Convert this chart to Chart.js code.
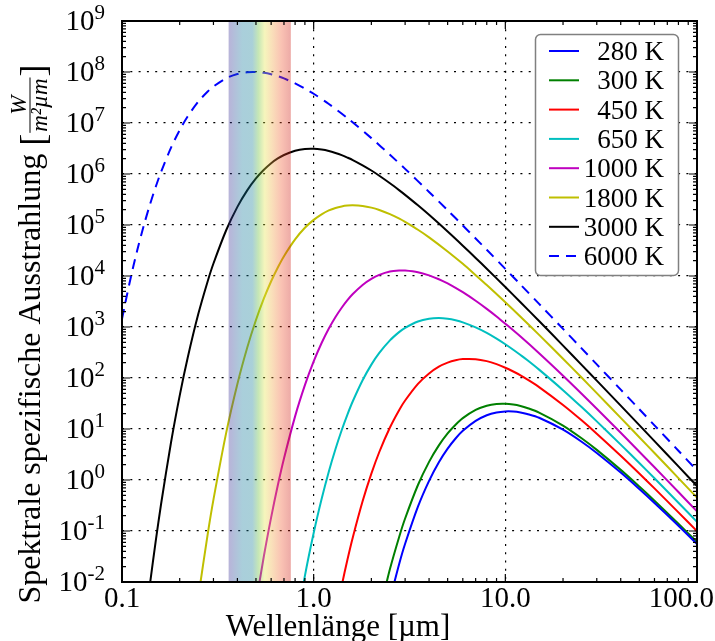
<!DOCTYPE html>
<html>
<head>
<meta charset="utf-8">
<script src="https://cdn.jsdelivr.net/npm/chart.js@4.4.1/dist/chart.umd.min.js"></script>
<style>
  html, body { margin: 0; padding: 0; background: #fff; }
</style>
</head>
<body>
<canvas id="myChart" width="715" height="641"></canvas>
<script>
// Spektrale spezifische Ausstrahlung schwarzer Strahler, W/(m² µm)
// null = an dieser Wellenlänge nicht abgelesen (Linie läuft durch)
const wellenlaengen = [
    0.1, 0.11, 0.12, 0.13, 0.14, 0.15, 0.16, 0.18, 0.2, 0.22,
    0.25, 0.28, 0.3, 0.35, 0.4, 0.45, 0.5, 0.55, 0.6, 0.65,
    0.7, 0.8, 0.9, 1.0, 1.1, 1.2, 1.3, 1.4, 1.5, 1.6,
    1.8, 2, 2.2, 2.5, 2.8, 3, 3.5, 4, 4.5, 5,
    5.5, 6, 7, 8, 9, 10, 11, 12, 13, 15,
    20, 25, 30, 40, 50, 60, 80, 100]

const temperaturen = ['280 K', '300 K', '450 K', '650 K', '1000 K', '1800 K', '3000 K', '6000 K']

const m280 = [
    null, null, null, null, null, null, null, null, null, null,
    null, null, null, null, null, null, null, null, null, null,
    null, null, null, null, null, null, null, null, null, null,
    null, null, null, 4.54e-3, 0.0233, 0.0561, 0.300, 0.963, 2.23, 4.12,
    6.51, 9.19, 14.4, 18.6, 21.1, 22.1, 22.0, 21.1, 19.7, 16.6,
    9.70, 5.63, 3.39, 1.40, 0.667, 0.355, 0.127, 0.0557]
const m300 = [
    null, null, null, null, null, null, null, null, null, null,
    null, null, null, null, null, null, null, null, null, null,
    null, null, null, null, null, null, null, null, null, null,
    null, null, 2.47e-3, 1.79e-2, 0.0791, 0.176, 0.798, 2.27, 4.77, 8.18,
    12.1, 16.3, 23.6, 28.5, 30.9, 31.2, 30.1, 28.2, 25.8, 21.0,
    11.7, 6.59, 3.90, 1.58, 0.744, 0.393, 0.139, 0.0608]
const m450 = [
    null, null, null, null, null, null, null, null, null, null,
    null, null, null, null, null, null, null, null, null, null,
    null, null, null, null, null, null, 2.10e-3, 8.39e-3, 0.0273, 0.0748,
    0.382, 1.33, 3.54, 10.7, 23.9, 36.2, 76.8, 123, 167, 200,
    223, 235, 234, 214, 187, 159, 134, 113, 94.2, 66.4,
    29.6, 14.8, 8.09, 2.99, 1.34, 0.684, 0.232, 0.0993]
const m650 = [
    null, null, null, null, null, null, null, null, null, null,
    null, null, null, null, null, null, null, null, null, null,
    null, 1.10e-3, 1.32e-2, 9.12e-2, 0.423, 1.47, 4.06, 9.46, 19.2, 35.0,
    90.4, 183, 310, 547, 802, 963, 1279, 1449, 1493, 1448,
    1353, 1234, 984, 766, 592, 459, 358, 282, 225, 146,
    57.8, 26.9, 14.1, 4.94, 2.15, 1.08, 0.358, 0.151]
const m1000 = [
    null, null, null, null, null, null, null, null, null, null,
    null, null, null, null, null, null, 3.81e-3, 0.0324, 0.185, 0.786,
    2.64, 17.7, 72.3, 211, 485, 933, 1.57e3, 2.39e3, 3.37e3, 4.44e3,
    6.69e3, 8.79e3, 1.05e4, 1.22e4, 1.28e4, 1.28e4, 1.19e4, 1.03e4, 8.64e3, 7.14e3,
    5.86e3, 4.81e3, 3.27e3, 2.27e3, 1.61e3, 1.16e3, null, 649, null, 306,
    111, 49.3, 25.0, 8.44, 3.59, 1.78, 0.580, 0.242]
const m1800 = [
    null, null, null, null, null, null, null, null, null, null,
    5.01e-3, 0.0870, 0.413, 8.59, 76.6, 392, 1.37e3, 3.63e3, 7.88e3, 1.47e4,
    2.45e4, 5.23e4, 8.81e4, 1.26e5, 1.62e5, 1.93e5, 2.16e5, 2.31e5, 2.40e5, 2.43e5,
    2.36e5, 2.19e5, 1.97e5, 1.63e5, 1.33e5, 1.15e5, 8.08e4, 5.73e4, null, 3.03e4,
    null, 1.73e4, 1.04e4, 6.66e3, null, 3.06e3, null, 1.59e3, null, 700,
    238, 102, 50.4, 16.5, 6.91, 3.38, 1.09, 0.450]
const m3000 = [
    null, null, null, 9.55e-4, 9.23e-3, 0.0641, 0.342, 5.31, 45.1, 247,
    1.79e3, 7.91e3, 1.76e4, 7.98e4, 2.27e5, 4.77e5, 8.18e5, 1.21e6, 1.63e6, 2.02e6,
    2.36e6, 2.85e6, 3.09e6, 3.12e6, 3.01e6, 2.82e6, 2.58e6, 2.34e6, 2.10e6, 1.88e6,
    1.48e6, 1.17e6, 9.25e5, 6.59e5, 4.78e5, 3.90e5, 2.43e5, 1.58e5, null, 7.44e4,
    null, 3.93e4, 2.26e4, 1.39e4, null, 6.08e3, null, 3.06e3, null, 1.31e3,
    432, 181, 88.8, 28.7, 11.9, 5.78, 1.85, 0.762]
const m6000 = [
    1.44e3, 7.92e3, 3.15e4, 9.83e4, 2.54e5, 5.62e5, 1.11e6, 3.25e6, 7.26e6, 1.34e7,
    2.62e7, 4.15e7, 5.20e7, 7.55e7, 9.12e7, 9.88e7, 9.98e7, 9.63e7, 9.02e7, 8.27e7,
    7.48e7, 6.00e7, 4.74e7, 3.74e7, null, 2.36e7, null, null, 1.25e7, null,
    null, 5.05e6, null, 2.38e6, null, 1.26e6, null, 4.45e5, null, 1.95e5,
    null, 9.80e4, 5.45e4, 3.27e4, null, 1.38e4, null, 6.80e3, null, 2.84e3,
    918, 381, 185, 59.2, 24.4, 11.8, 3.75, 1.54]

// Achsen
const xTicks = [0.1, 1, 10, 100]
const xTickLabels = ['0.1', '1.0', '10.0', '100.0']
const yExponenten = [-2, -1, 0, 1, 2, 3, 4, 5, 6, 7, 8, 9]

// sichtbarer Bereich in µm
const sichtbar = [0.36, 0.76]

const reihen = [m280, m300, m450, m650, m1000, m1800, m3000, m6000]
const farben = ['#0000ff', '#008000', '#ff0000', '#00bfbf', '#bf00bf', '#bfbf00', '#000000', '#0000ff']
const serif = '"Liberation Serif", "Times New Roman", serif'

const datasets = reihen.map((werte, i) => ({
    label: temperaturen[i],
    data: wellenlaengen.map((w, j) => ({ x: w, y: werte[j] })),
    borderColor: farben[i],
    borderWidth: 2,
    borderDash: i === 7 ? [10, 7] : [],
    pointRadius: 0,
    tension: 0.3,
    spanGaps: true
}))

function ticksInnen(ctx, a, scale, horizontal) {
    const lo = Math.round(Math.log10(scale.min)), hi = Math.round(Math.log10(scale.max))
    for (let d = lo; d <= hi; d++) {
        for (let k = 1; k <= 9; k++) {
            const v = k * Math.pow(10, d)
            if (v < scale.min * 0.999 || v > scale.max * 1.001) continue
            const p = scale.getPixelForValue(v)
            const len = k === 1 ? 8 : 4
            ctx.beginPath()
            if (horizontal) {
                ctx.moveTo(p, a.top); ctx.lineTo(p, a.top + len)
                ctx.moveTo(p, a.bottom); ctx.lineTo(p, a.bottom - len)
            } else {
                ctx.moveTo(a.left, p); ctx.lineTo(a.left + len, p)
                ctx.moveTo(a.right, p); ctx.lineTo(a.right - len, p)
            }
            ctx.stroke()
        }
    }
}

const deko = {
    id: 'deko',
    afterDatasetsDraw(chart) {
        const { ctx, chartArea: a, scales: { x, y } } = chart
        ctx.save()

        // Farbband sichtbares Licht
        const x0 = x.getPixelForValue(sichtbar[0]), x1 = x.getPixelForValue(sichtbar[1])
        const grad = ctx.createLinearGradient(x0, 0, x1, 0)
        grad.addColorStop(0, 'rgb(60,45,150)')
        grad.addColorStop(0.22, 'rgb(18,121,155)')
        grad.addColorStop(0.38, 'rgb(18,125,150)')
        grad.addColorStop(0.48, 'rgb(98,189,52)')
        grad.addColorStop(0.58, 'rgb(230,228,70)')
        grad.addColorStop(0.7, 'rgb(240,166,63)')
        grad.addColorStop(0.85, 'rgb(240,86,45)')
        grad.addColorStop(1, 'rgb(205,20,10)')
        ctx.globalAlpha = 0.36
        ctx.fillStyle = grad
        ctx.fillRect(x0, a.top, x1 - x0, a.bottom - a.top)
        ctx.globalAlpha = 1

        // Rahmen und Ticks
        ctx.strokeStyle = '#000'
        ctx.lineWidth = 1.2
        ticksInnen(ctx, a, x, true)
        ticksInnen(ctx, a, y, false)
        ctx.lineWidth = 2
        ctx.strokeRect(a.left, a.top, a.right - a.left, a.bottom - a.top)

        // Tick-Beschriftung y
        ctx.fillStyle = '#000'
        ctx.textBaseline = 'alphabetic'
        ctx.textAlign = 'left'
        yExponenten.forEach(e => {
            const py = y.getPixelForValue(Math.pow(10, e))
            const hoch = e < 0 ? '-' + (-e) : String(e)
            ctx.font = '29px ' + serif
            const wb = ctx.measureText('10').width
            ctx.font = '21px ' + serif
            const we = ctx.measureText(hoch).width
            const start = 105 - wb - we
            ctx.font = '29px ' + serif
            ctx.fillText('10', start, py + 9)
            ctx.font = '21px ' + serif
            ctx.fillText(hoch, start + wb, py - 2)
        })

        // Tick-Beschriftung x
        ctx.font = '29px ' + serif
        xTicks.forEach((v, i) => {
            const w = ctx.measureText(xTickLabels[i]).width
            const cx = Math.min(x.getPixelForValue(v), 714 - w / 2)
            ctx.fillText(xTickLabels[i], cx - w / 2, 607)
        })

        // Achsentitel
        ctx.font = '31px ' + serif
        ctx.textAlign = 'center'
        ctx.fillText('Wellenlänge [µm]', 338, 636)

        ctx.save()
        ctx.translate(40, 334)
        ctx.rotate(-Math.PI / 2)
        ctx.textAlign = 'left'
        const t1 = 'Spektrale spezifische Ausstrahlung '
        ctx.font = '32px ' + serif
        const w1 = ctx.measureText(t1).width
        ctx.font = '36px ' + serif
        const wk = ctx.measureText('[').width
        ctx.font = 'italic 23px ' + serif
        const wz = ctx.measureText('W').width
        const wn = ctx.measureText('m²µm').width
        const wf = Math.max(wz, wn) + 4
        let cx = -(w1 + wk * 2 + wf) / 2
        ctx.font = '32px ' + serif
        ctx.fillText(t1, cx, 0)
        cx += w1
        ctx.font = '36px ' + serif
        ctx.fillText('[', cx, 5)
        cx += wk
        ctx.lineWidth = 1
        ctx.beginPath()
        ctx.moveTo(cx + 1, -10); ctx.lineTo(cx + wf - 1, -10)
        ctx.stroke()
        ctx.font = 'italic 23px ' + serif
        ctx.textAlign = 'center'
        ctx.fillText('W', cx + wf / 2, -14)
        ctx.fillText('m²µm', cx + wf / 2, 7)
        ctx.textAlign = 'left'
        cx += wf
        ctx.font = '36px ' + serif
        ctx.fillText(']', cx, 5)
        ctx.restore()

        // Legende
        const lx = 535.5, ly = 34.5, lw = 143, lh = 241, r = 5
        ctx.beginPath()
        ctx.moveTo(lx + r, ly)
        ctx.arcTo(lx + lw, ly, lx + lw, ly + lh, r)
        ctx.arcTo(lx + lw, ly + lh, lx, ly + lh, r)
        ctx.arcTo(lx, ly + lh, lx, ly, r)
        ctx.arcTo(lx, ly, lx + lw, ly, r)
        ctx.closePath()
        ctx.fillStyle = '#fff'
        ctx.fill()
        ctx.strokeStyle = '#808080'
        ctx.lineWidth = 1.5
        ctx.stroke()

        ctx.font = '27px ' + serif
        ctx.textAlign = 'right'
        chart.data.datasets.forEach((ds, i) => {
            const ry = 51 + i * 29.3
            ctx.strokeStyle = ds.borderColor
            ctx.lineWidth = 2
            ctx.setLineDash(ds.borderDash)
            ctx.beginPath()
            ctx.moveTo(549, ry); ctx.lineTo(579, ry)
            ctx.stroke()
            ctx.setLineDash([])
            ctx.fillStyle = '#000'
            ctx.fillText(ds.label, 664, ry + 9)
        })

        ctx.restore()
    }
}

const ctx = document.getElementById('myChart')

new Chart(ctx, {
    type: 'line',
    data: { datasets: datasets },
    options: {
        responsive: false,
        animation: false,
        devicePixelRatio: 1,
        layout: { padding: { top: 21, right: 18, left: 0, bottom: 0 } },
        plugins: { legend: { display: false }, tooltip: { enabled: false } },
        scales: {
            x: {
                type: 'logarithmic',
                min: 0.1,
                max: 100,
                afterBuildTicks: s => { s.ticks = xTicks.map(v => ({ value: v })) },
                afterFit: s => { s.height = 59 },
                ticks: { display: false },
                grid: { color: '#000', lineWidth: 1.2, drawTicks: false },
                border: { display: false, dash: [2, 6.3] }
            },
            y: {
                type: 'logarithmic',
                min: 1e-2,
                max: 1e9,
                afterBuildTicks: s => { s.ticks = yExponenten.map(e => ({ value: Math.pow(10, e) })) },
                afterFit: s => { s.width = 122 },
                ticks: { display: false },
                grid: { color: '#000', lineWidth: 1.2, drawTicks: false },
                border: { display: false, dash: [2, 6.3] }
            }
        }
    },
    plugins: [deko]
})
</script>
</body>
</html>
